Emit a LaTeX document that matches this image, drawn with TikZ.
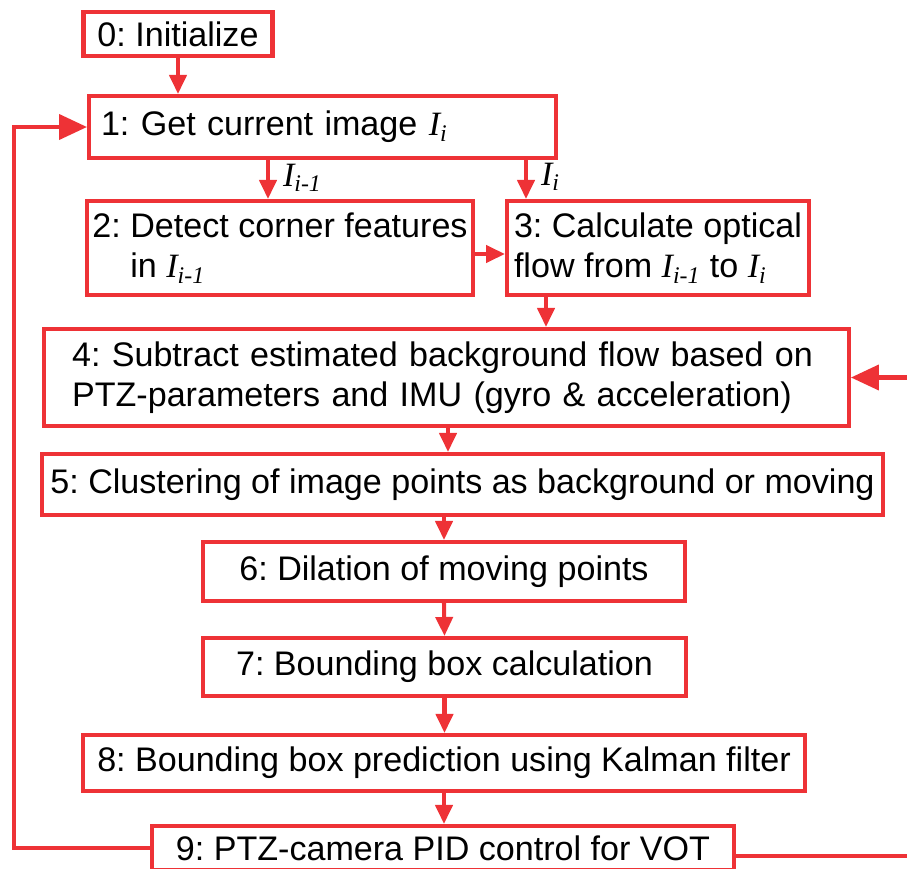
\documentclass[tikz,border=0pt]{standalone}
\usepackage{fontspec}
\setmainfont{Liberation Sans}
\newfontfamily\imgfont{Liberation Serif}
\usetikzlibrary{
    arrows.meta
}
\definecolor{flowred}{RGB}{238,50,54}
\newcommand{\imgsym}[1]{{\imgfont\itshape I\textsubscript{#1}}}
\frenchspacing
\hyphenpenalty=10000

\begin{document}
\begin{tikzpicture}[x=0.02cm, y=-0.02cm,
    box/.style={draw=flowred, line width=2.3pt, rectangle, inner sep=0pt, font=\fontsize{19.4}{22.8}\selectfont},
    arr/.style={draw=flowred, line width=2.3pt, -{Triangle[length=0.38cm, width=0.34cm]}},
    bigarr/.style={draw=flowred, line width=2.3pt, -{Triangle[length=0.56cm, width=0.5cm]}},
    imglabel/.style={font=\fontsize{19.4}{22.8}\selectfont, inner sep=0pt, right}]
                        \useasboundingbox (0, 0) rectangle (907, 869);
                        \clip (0, 0) rectangle (907, 869);

                        \node[box, minimum width=3.78cm, minimum height=0.88cm] (s0) at (178, 34) {0: Initialize};
                        \node[box, text width=8.86cm, inner xsep=0.24cm, minimum height=1.24cm, align=left] (s1) at (322.5, 127) {1: Get current image \imgsym{i}};
                        \node[box, minimum width=7.72cm, minimum height=1.88cm, align=left] (s2) at (280, 248) {2: Detect corner features\\\phantom{2: }in \imgsym{i-1}};
                        \node[box, minimum width=6.04cm, minimum height=1.88cm, align=left] (s3) at (658, 248) {3: Calculate optical\\flow from \imgsym{i-1} to \imgsym{i}};
                        \node[box, text width=14.98cm, inner xsep=0.56cm, minimum height=1.94cm, align=left] (s4) at (446.5, 377.5) {4: Subtract estimated background flow based on\\PTZ-parameters and IMU (gyro \& acceleration)};
                        \node[box, minimum width=16.82cm, minimum height=1.22cm] (s5) at (462.5, 484.5) {5: Clustering of image points as background or moving};
                        \node[box, minimum width=9.64cm, minimum height=1.18cm] (s6) at (444, 571.5) {6: Dilation of moving points};
                        \node[box, minimum width=9.66cm, minimum height=1.16cm] (s7) at (444.5, 667) {7: Bounding box calculation};
                        \node[box, minimum width=14.44cm, minimum height=1.12cm] (s8) at (444, 763) {8: Bounding box prediction using Kalman filter};
                        \node[box, minimum width=11.64cm, minimum height=0.88cm] (s9) at (443, 848) {9: PTZ-camera PID control for VOT};

                        % columns of the split arrows and the two return rails
                        \coordinate (c12) at (268, 0);
                        \coordinate (c13) at (526, 0);
                        \coordinate (c34) at (546, 0);
                        \coordinate (c45) at (448, 0);
                        \coordinate (leftrail) at (14, 0);
                        \coordinate (rightrail) at (930, 0);
                        \coordinate (s2out) at ([yshift=-0.12cm]s2.east);
                        \coordinate (s9out) at ([yshift=-0.16cm]s9.east);

                        \draw
                        (s0.south) edge[arr] (s0.south |- s1.north)
                        (s1.south -| c12) edge[arr] node[imglabel, xshift=0.26cm, yshift=0.03cm] (lprev) {\imgsym{i-1}} (s2.north -| c12)
                        (s1.south -| c13) edge[arr] node[imglabel, xshift=0.26cm, yshift=0.05cm] (lcur) {\imgsym{i}} (s3.north -| c13)
                        (s2out) edge[arr] (s2out -| s3.west)
                        (s3.south -| c34) edge[arr] (s4.north -| c34)
                        (s4.south -| c45) edge[arr] (s5.north -| c45)
                        (s5.south -| s6.north) edge[arr] (s6.north)
                        (s6.south) edge[arr] (s7.north)
                        (s7.south) edge[arr] (s7.south |- s8.north)
                        (s8.south) edge[arr] (s8.south |- s9.north);

                        \draw[bigarr] (s9.west) -- (s9.west -| leftrail) |- (s1.west);
                        \draw[bigarr] (s9out) -- (s9out -| rightrail) |- (s4.east);
                    \end{tikzpicture}
\end{document}
